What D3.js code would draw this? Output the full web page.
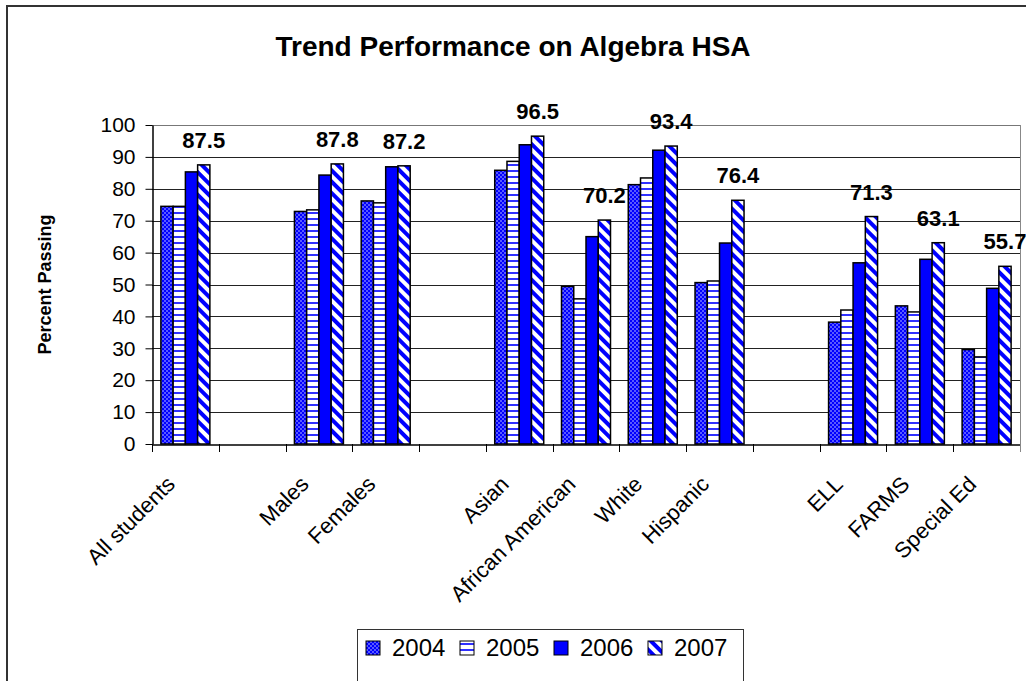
<!DOCTYPE html>
<html>
<head>
<meta charset="utf-8">
<script src="https://cdn.jsdelivr.net/npm/d3@7"></script>
<style>
  body { margin: 0; background: #fff; }
  text { font-family: Arial, "Liberation Sans", sans-serif; }
</style>
</head>
<body>
<svg id="chart"></svg>
<script>
var width = 1026;
var height = 681;

// category slots, "" = empty gap slot
var slots = ["All students", "", "Males", "Females", "", "Asian", "African American",
             "White", "Hispanic", "", "ELL", "FARMS", "Special Ed"];
var groups = ["All students", "Males", "Females", "Asian", "African American",
              "White", "Hispanic", "ELL", "FARMS", "Special Ed"];
var years = ["2004", "2005", "2006", "2007"];

var v2004 = [74.5, 72.9, 76.2, 85.8, 49.4, 81.3, 50.6, 38.2, 43.3, 29.6];
var v2005 = [74.5, 73.4, 75.6, 88.6, 45.5, 83.4, 51.1, 42.0, 41.4, 27.3];
var v2006 = [85.3, 84.3, 86.9, 93.8, 65.0, 92.1, 63.0, 56.8, 57.9, 48.8];
var v2007 = [87.5, 87.8, 87.2, 96.5, 70.2, 93.4, 76.4, 71.3, 63.1, 55.7];
var yTicks = [0, 10, 20, 30, 40, 50, 60, 70, 80, 90, 100];

var series = {"2004": v2004, "2005": v2005, "2006": v2006, "2007": v2007};

var plotLeft = 152, plotRight = 1020, plotTop = 125, plotBottom = 444;

var svg = d3.select("#chart")
            .attr("width", width)
            .attr("height", height);

// patterns
var defs = svg.append("defs");

var p1 = defs.append("pattern").attr("id", "p2004")
             .attr("patternUnits", "userSpaceOnUse")
             .attr("width", 4).attr("height", 4);
p1.append("rect").attr("width", 4).attr("height", 4).attr("fill", "#0000ff");
p1.append("circle").attr("cx", 1).attr("cy", 1).attr("r", 0.75).attr("fill", "#dde0ff");
p1.append("circle").attr("cx", 3).attr("cy", 3).attr("r", 0.75).attr("fill", "#dde0ff");

var p2 = defs.append("pattern").attr("id", "p2005")
             .attr("patternUnits", "userSpaceOnUse")
             .attr("width", 6).attr("height", 6);
p2.append("rect").attr("width", 6).attr("height", 6).attr("fill", "#fff");
p2.append("rect").attr("y", 2).attr("width", 6).attr("height", 2).attr("fill", "#3030ff");

var p4 = defs.append("pattern").attr("id", "p2007")
             .attr("patternUnits", "userSpaceOnUse")
             .attr("width", 8).attr("height", 8)
             .attr("patternTransform", "rotate(-45)");
p4.append("rect").attr("width", 8).attr("height", 8).attr("fill", "#fff");
p4.append("rect").attr("width", 4).attr("height", 8).attr("fill", "#0000ff");

var fills = {"2004": "url(#p2004)", "2005": "url(#p2005)", "2006": "#0000ff", "2007": "url(#p2007)"};

// scales
var xScale = d3.scaleBand()
               .domain(d3.range(slots.length))
               .range([plotLeft, plotRight]);

var groupWidth = 49;
var xInner = d3.scaleBand()
               .domain(years)
               .range([0, groupWidth]);

var yScale = d3.scaleLinear()
               .domain([0, 100])
               .range([plotBottom, plotTop]);

// outer frame
svg.append("rect")
   .attr("x", 7).attr("y", 6)
   .attr("width", 1030).attr("height", 690)
   .attr("fill", "none")
   .attr("stroke", "#333")
   .attr("stroke-width", 2);

// title
svg.append("text")
   .attr("x", 513).attr("y", 56)
   .attr("text-anchor", "middle")
   .style("font-size", "28px")
   .style("font-weight", "bold")
   .text("Trend Performance on Algebra HSA");

// gridlines
svg.append("g")
   .selectAll("line")
   .data(yTicks.slice(1))
   .enter()
   .append("line")
     .attr("x1", plotLeft).attr("x2", plotRight)
     .attr("y1", d => Math.round(yScale(d)) + 0.5)
     .attr("y2", d => Math.round(yScale(d)) + 0.5)
     .attr("stroke", d => d == 100 ? "#777" : "#222")
     .attr("stroke-width", 1);

// plot right border
svg.append("line")
   .attr("x1", plotRight + 0.5).attr("x2", plotRight + 0.5)
   .attr("y1", plotTop).attr("y2", plotBottom)
   .attr("stroke", "#888");

// y axis
var yAxis = d3.axisLeft(yScale)
              .tickValues(yTicks)
              .tickSize(7)
              .tickPadding(10)
              .tickSizeOuter(0);

var gy = svg.append("g")
            .attr("transform", "translate(" + (plotLeft + 0.5) + ",0)")
            .call(yAxis);
gy.selectAll("text").style("font-size", "21px").attr("fill", "#000");
gy.select(".domain").attr("stroke", "#000").attr("stroke-width", 1.5);

// y axis title
svg.append("text")
   .attr("transform", "translate(51," + ((plotTop + plotBottom) / 2) + ") rotate(-90)")
   .attr("text-anchor", "middle")
   .style("font-size", "18px")
   .style("font-weight", "bold")
   .text("Percent Passing");

// bars
var barData = [];
groups.forEach(function (g, gi) {
    var slot = slots.indexOf(g);
    years.forEach(function (yr) {
        barData.push({slot: slot, year: yr, value: series[yr][gi]});
    });
});

var offset = (xScale.bandwidth() - groupWidth) / 2;

svg.append("g")
   .selectAll("rect")
   .data(barData)
   .enter()
   .append("rect")
     .attr("x", d => xScale(d.slot) + offset + xInner(d.year))
     .attr("y", d => yScale(d.value))
     .attr("width", xInner.bandwidth())
     .attr("height", d => plotBottom - yScale(d.value))
     .attr("fill", d => fills[d.year])
     .attr("stroke", "#000")
     .attr("stroke-width", 1.5);

// value labels on 2007
svg.append("g")
   .selectAll("text")
   .data(barData.filter(d => d.year == "2007"))
   .enter()
   .append("text")
     .attr("x", d => xScale(d.slot) + offset + xInner(d.year) + xInner.bandwidth() / 2)
     .attr("y", d => yScale(d.value) - 17)
     .attr("text-anchor", "middle")
     .style("font-size", "22px")
     .style("font-weight", "bold")
     .text(d => d.value.toFixed(1));

// x axis
var xAxis = d3.axisBottom(xScale)
              .tickSize(0)
              .tickFormat(i => slots[i]);

var gx = svg.append("g")
            .attr("transform", "translate(0," + (plotBottom + 0.5) + ")")
            .call(xAxis);
gx.select(".domain").attr("stroke", "#000").attr("stroke-width", 1.5);
gx.selectAll("text")
  .style("font-size", "22px")
  .attr("fill", "#000")
  .attr("text-anchor", "end")
  .attr("dy", 0)
  .attr("transform", "translate(-9,41) rotate(-45)")
  .attr("y", 0);

// tick marks between categories
svg.append("g")
   .selectAll("line")
   .data(d3.range(slots.length + 1))
   .enter()
   .append("line")
     .attr("x1", i => Math.round(plotLeft + i * xScale.step()) + 0.5)
     .attr("x2", i => Math.round(plotLeft + i * xScale.step()) + 0.5)
     .attr("y1", plotBottom)
     .attr("y2", plotBottom + 8)
     .attr("stroke", i => i == slots.length ? "#888" : "#000");

// legend
var legend = svg.append("g");
legend.append("rect")
      .attr("x", 357.5).attr("y", 629.5)
      .attr("width", 386).attr("height", 60)
      .attr("fill", "#fff")
      .attr("stroke", "#333");

var item = legend.selectAll(".item")
                 .data(years)
                 .enter()
                 .append("g")
                   .attr("transform", (d, i) => "translate(" + (366 + i * 94) + ",641)");
item.append("rect")
    .attr("width", 14).attr("height", 14)
    .attr("fill", d => fills[d])
    .attr("stroke", "#000");
item.append("text")
    .attr("x", 26).attr("y", 15)
    .style("font-size", "24px")
    .text(d => d);
</script>
</body>
</html>
